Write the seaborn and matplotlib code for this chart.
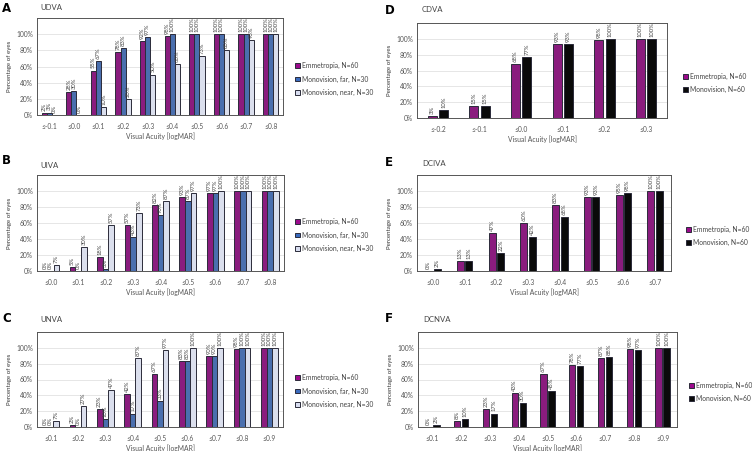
import matplotlib
matplotlib.use("Agg")
import matplotlib.pyplot as plt
import seaborn as sns
import pandas as pd
import numpy as np

sns.set_theme(style="white")
plt.rcParams['font.family'] = ['Lato', 'DejaVu Sans']

# ---- data ----
cat_A = ["≤-0.1", "≤0.0", "≤0.1", "≤0.2", "≤0.3", "≤0.4", "≤0.5", "≤0.6", "≤0.7", "≤0.8"]
A_emm = [2, 28, 55, 78, 92, 98, 100, 100, 100, 100]
A_far = [3, 30, 67, 83, 97, 100, 100, 100, 100, 100]
A_near = [0, 0, 10, 20, 50, 63, 73, 80, 93, 100]

cat_B = ["≤0.0", "≤0.1", "≤0.2", "≤0.3", "≤0.4", "≤0.5", "≤0.6", "≤0.7", "≤0.8"]
B_emm = [0, 5, 18, 57, 82, 93, 97, 100, 100]
B_far = [0, 0, 3, 43, 70, 87, 97, 100, 100]
B_near = [7, 30, 57, 73, 87, 97, 100, 100, 100]

cat_C = ["≤0.1", "≤0.2", "≤0.3", "≤0.4", "≤0.5", "≤0.6", "≤0.7", "≤0.8", "≤0.9"]
C_emm = [0, 2, 23, 42, 67, 83, 90, 98, 100]
C_far = [0, 0, 10, 17, 33, 83, 90, 100, 100]
C_near = [7, 27, 47, 87, 97, 100, 100, 100, 100]

cat_D = ["≤-0.2", "≤-0.1", "≤0.0", "≤0.1", "≤0.2", "≤0.3"]
D_emm = [3, 15, 68, 93, 98, 100]
D_mono = [10, 15, 77, 93, 100, 100]

cat_E = ["≤0.0", "≤0.1", "≤0.2", "≤0.3", "≤0.4", "≤0.5", "≤0.6", "≤0.7"]
E_emm = [0, 13, 47, 60, 83, 93, 95, 100]
E_mono = [2, 13, 22, 42, 68, 93, 98, 100]

cat_F = ["≤0.1", "≤0.2", "≤0.3", "≤0.4", "≤0.5", "≤0.6", "≤0.7", "≤0.8", "≤0.9"]
F_emm = [0, 8, 23, 43, 67, 78, 87, 98, 100]
F_mono = [2, 10, 17, 30, 45, 77, 88, 97, 100]

groups3 = ["Emmetropia, N=60", "Monovision, far, N=30", "Monovision, near, N=30"]
groups2 = ["Emmetropia, N=60", "Monovision, N=60"]
colors3 = ["#9C0A8C", "#3A6BBE", "#D8DDF0"]
colors2 = ["#9C0A8C", "#0A0A0A"]

W, H = 752, 451
fig = plt.figure(figsize=(W / 100, H / 100), dpi=100)


def add_ax(l, r, t, b):
    return fig.add_axes([l / W, (H - b) / H, (r - l) / W, (b - t) / H])


def fx(x):
    return x / W


def fy(y):
    return (H - y) / H


def panel(ax, cats, series, names, colors, letter, title, width, gap,
          letter_xy, title_xy, legend_xy):
    rows = []
    for name, vals in zip(names, series):
        for c, v in zip(cats, vals):
            rows.append({"cat": c, "grp": name, "val": v})
    df = pd.DataFrame(rows)
    sns.barplot(data=df, x="cat", y="val", hue="grp", order=cats, hue_order=names,
                palette=colors, width=width, gap=gap, edgecolor="#2b2b3a",
                linewidth=0.7, ax=ax, legend=False, errorbar=None)
    for cont, vals in zip(ax.containers, series):
        ax.bar_label(cont, labels=[f"{v}%" for v in vals], rotation=90,
                     padding=1.5, fontsize=4.2, color="#444444")
    ax.set_ylim(0, 120)
    ax.set_yticks([0, 20, 40, 60, 80, 100])
    ax.set_yticklabels([f"{v}%" for v in [0, 20, 40, 60, 80, 100]])
    ax.tick_params(axis="both", labelsize=4.8, colors="#555555", length=0, pad=3)
    ax.tick_params(axis="x", pad=5.5)
    ax.yaxis.grid(True, color="#e2e2e2", linewidth=0.6)
    ax.set_axisbelow(True)
    for s in ax.spines.values():
        s.set_color("#555555")
        s.set_linewidth(0.7)
    ax.set_xlabel("Visual Acuity [logMAR]", fontsize=4.9, color="#555555", labelpad=2)
    ax.set_ylabel("Percentage of eyes", fontsize=4.4, color="#333333", labelpad=3)
    fig.text(fx(letter_xy[0]), fy(letter_xy[1]), letter, fontsize=8.5,
             fontweight="bold", ha="left", va="center", color="black",
             family=["DejaVu Sans"])
    fig.text(fx(title_xy[0]), fy(title_xy[1]), title, fontsize=5.6,
             ha="left", va="center", color="#444444")
    handles = [plt.Rectangle((0, 0), 1, 1, facecolor=c, edgecolor="#2b2b3a", linewidth=0.7)
               for c in colors]
    fig.legend(handles, names, loc="center left",
               bbox_to_anchor=(fx(legend_xy[0]), fy(legend_xy[1])),
               frameon=False, fontsize=4.9, handlelength=0.7, handleheight=0.7,
               handletextpad=0.3, labelspacing=0.95, labelcolor="#444444",
               borderpad=0, borderaxespad=0)


axA = add_ax(37, 283, 18, 115)
panel(axA, cat_A, [A_emm, A_far, A_near], groups3, colors3, "A", "UDVA", 0.62, 0.0,
      (2, 8), (40, 7), (295, 79))
axB = add_ax(37, 284, 175, 271)
panel(axB, cat_B, [B_emm, B_far, B_near], groups3, colors3, "B", "UIVA", 0.62, 0.0,
      (2, 160), (40, 165), (295, 235))
axC = add_ax(37, 283, 332, 427)
panel(axC, cat_C, [C_emm, C_far, C_near], groups3, colors3, "C", "UNVA", 0.62, 0.0,
      (2, 318), (40, 319), (295, 391))
axD = add_ax(417, 667, 23, 118)
panel(axD, cat_D, [D_emm, D_mono], groups2, colors2, "D", "CDVA", 0.55, 0.2,
      (385, 10), (422, 10), (683, 83))
axE = add_ax(417, 671, 175, 271)
panel(axE, cat_E, [E_emm, E_mono], groups2, colors2, "E", "DCIVA", 0.55, 0.2,
      (385, 163), (422, 163), (686, 236))
axF = add_ax(418, 677, 332, 427)
panel(axF, cat_F, [F_emm, F_mono], groups2, colors2, "F", "DCNVA", 0.55, 0.2,
      (385, 319), (423, 319), (689, 392))

fig.savefig("out.png", dpi=100)
